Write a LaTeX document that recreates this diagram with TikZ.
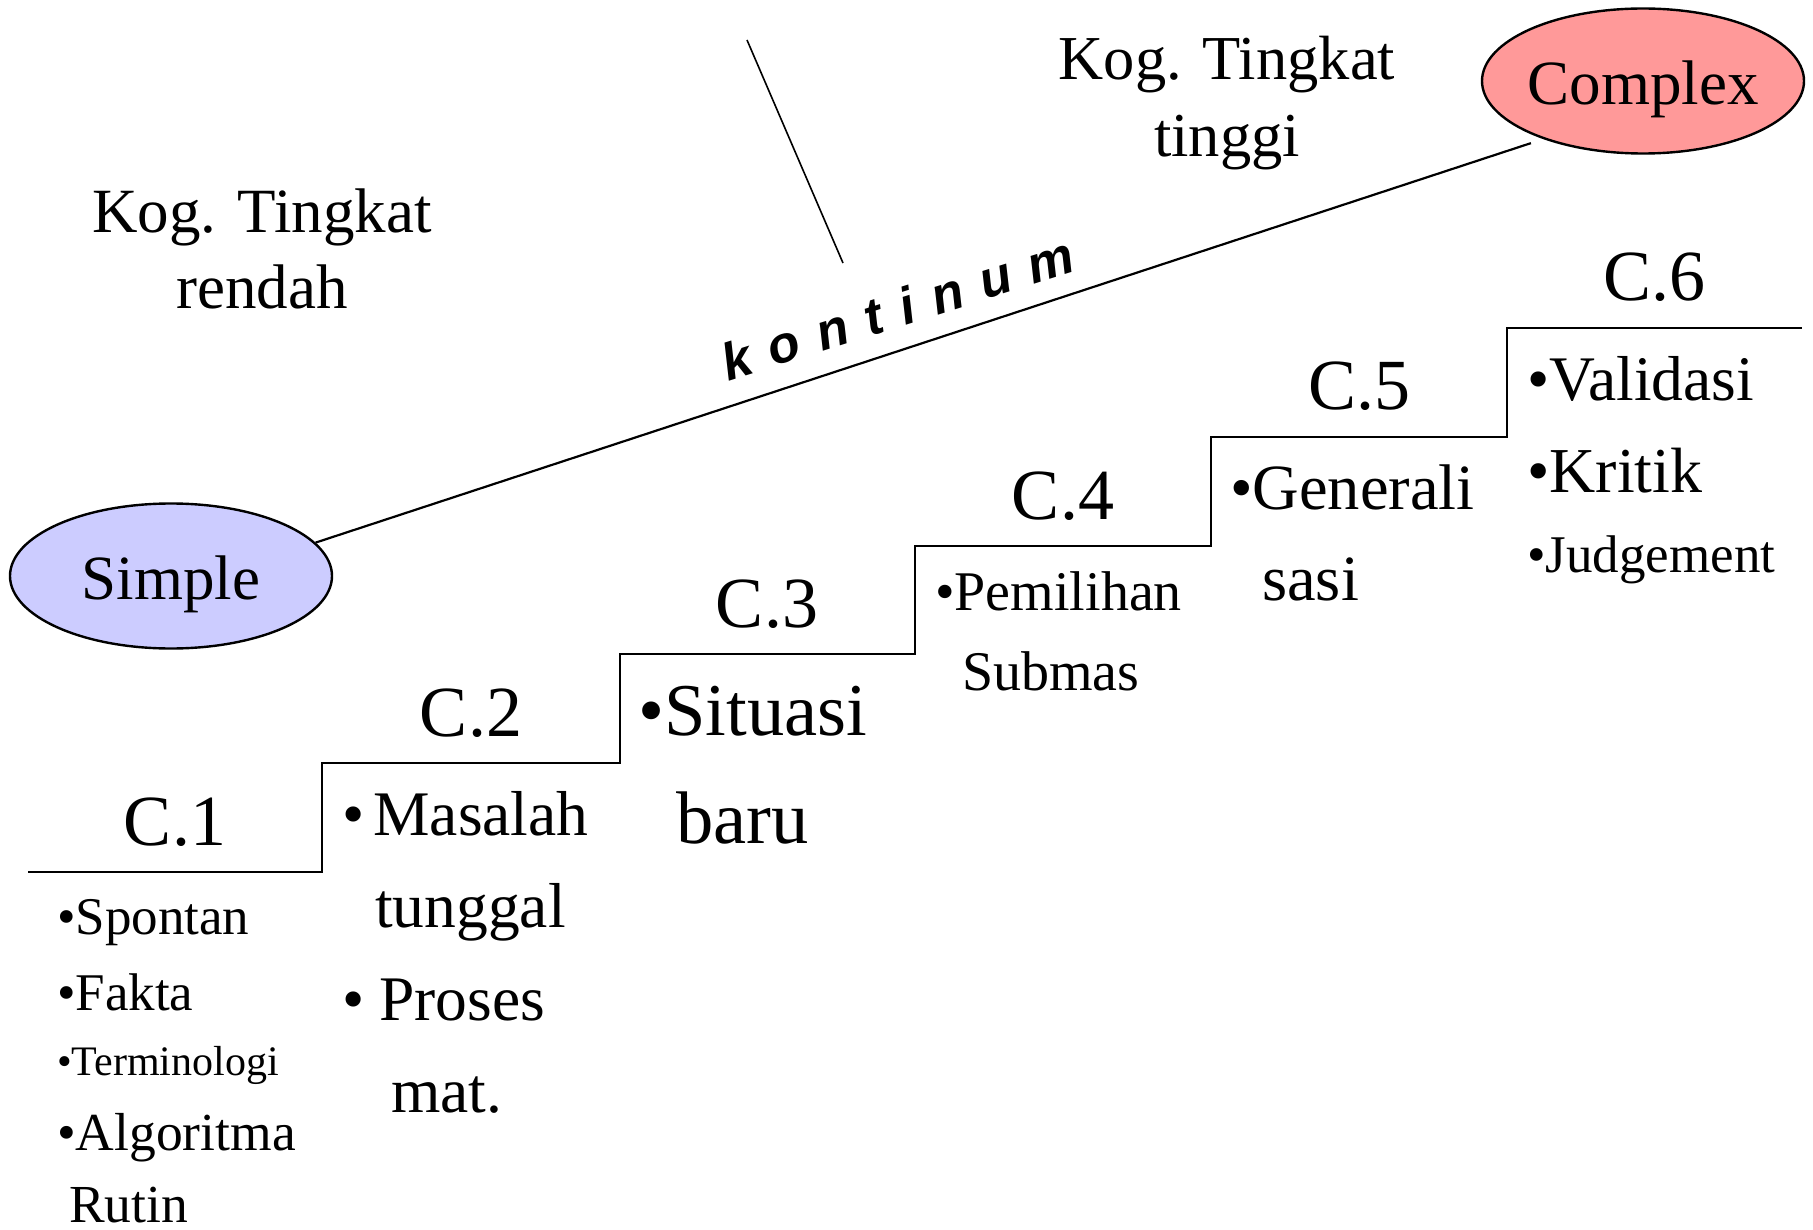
\documentclass[tikz,border=0pt]{standalone}
\usepackage{fontspec}
\setmainfont{Liberation Serif}
\newfontfamily\kontfont{Liberation Sans}
\usetikzlibrary{shapes.geometric,calc}
\definecolor{simplefill}{HTML}{CCCCFF}
\definecolor{complexfill}{HTML}{FF9999}
\newcommand{\fsz}[1]{\fontsize{#1pt}{#1pt}\selectfont}

\begin{document}
\begin{tikzpicture}[x=1pt,y=-1pt,
  every node/.style={inner sep=0pt},
  oval/.style={draw,ellipse,line width=2.4pt,inner xsep=-4pt,minimum width=322pt,minimum height=145pt,text height=47pt,text depth=0pt,font=\fsz{63}},
  stepname/.style={anchor=base,font=\fsz{72}},
  txt/.style={anchor=base west}]
\useasboundingbox (0,0) rectangle (1813,1230);

% the two ends
\node[oval,fill=simplefill] (simple) at (171,576) {Simple};
\node[oval,fill=complexfill] (complex) at (1643,81) {Complex};
\draw[line width=2.2pt] (simple.13) -- ($(complex.center)!1.09!(complex.209)$);
\node[rotate=17.5,anchor=base,font=\kontfont\bfseries\itshape\fsz{52}] (kont) at (903,326) {k\kern19pt o\kern19pt n\kern19pt t\kern19pt i\kern19pt n\kern19pt u\kern19pt m};
\coordinate (ptop) at (747,40);
\coordinate (pbot) at (843,263);
\draw[line width=1.6pt] (ptop) -- (pbot);

\node[anchor=base,font=\fsz{63}] (rendah1) at (262,233) {Kog. Tingkat};
\node[anchor=base,font=\fsz{63}] (rendah2) at (262,309) {rendah};
\node[anchor=base,font=\fsz{62.5}] (tinggi1) at (1227,80) {Kog. Tingkat};
\node[anchor=base,font=\fsz{62.5}] (tinggi2) at (1227,157) {tinggi};

% stairs
\draw[line width=2.5pt] (28,872) -- (322,872) -- (322,763) -- (620,763) -- (620,654) -- (915,654) -- (915,546) -- (1211,546) -- (1211,437) -- (1507,437) -- (1507,328) -- (1802,328);
\node[stepname] (c1) at (175,845) {C.1};
\node[stepname] (c2) at (471,736) {C.2};
\node[stepname] (c3) at (767,627) {C.3};
\node[stepname] (c4) at (1063,519) {C.4};
\node[stepname] (c5) at (1359,410) {C.5};
\node[stepname] (c6) at (1654,301) {C.6};

% C.1
\node[txt,font=\fsz{53}] (spontan) at (57,934) {•Spontan};
\node[txt,font=\fsz{53}] (fakta) at (57,1010) {•Fakta};
\node[txt,font=\fsz{42}] (termin) at (57,1075) {•Terminologi};
\node[txt,font=\fsz{53.5}] (algo) at (57,1150) {•Algoritma};
\node[txt,font=\fsz{53.5}] (rutin) at (69,1222) {Rutin};
% C.2
\node[txt,font=\fsz{63.5}] (masalah) at (342,835) {•\hspace{9pt}Masalah};
\node[txt,font=\fsz{63.5}] (tunggal) at (375,927) {tunggal};
\node[txt,font=\fsz{63.5}] (proses) at (342,1020) {•\hspace{15pt}Proses};
\node[txt,font=\fsz{63.5}] (mat) at (391,1112) {mat.};
% C.3
\node[txt,font=\fsz{74.5}] (situasi) at (638,735) {•Situasi};
\node[txt,font=\fsz{74.5}] (baru) at (676,843) {baru};
% C.4
\node[txt,font=\fsz{56}] (pemilihan) at (935,610) {•Pemilihan};
\node[txt,font=\fsz{56}] (submas) at (962,690) {Submas};
% C.5
\node[txt,font=\fsz{64.5}] (generali) at (1230,509) {•Generali};
\node[txt,font=\fsz{64.5}] (sasi) at (1262,600) {sasi};
% C.6
\node[txt,font=\fsz{63.5}] (validasi) at (1527,401) {•Validasi};
\node[txt,font=\fsz{64}] (kritik) at (1527,493) {•Kritik};
\node[txt,font=\fsz{53}] (judgement) at (1527,572) {•Judgement};
\end{tikzpicture}
\end{document}
